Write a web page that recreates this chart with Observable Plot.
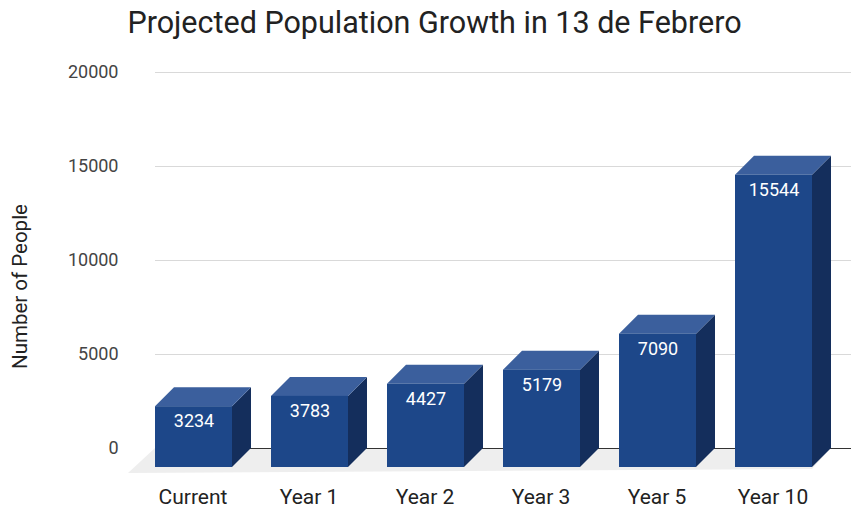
<!DOCTYPE html>
<html>
<head>
<meta charset="utf-8">
<script src="https://cdn.jsdelivr.net/npm/d3@7"></script>
<script src="https://cdn.jsdelivr.net/npm/@observablehq/plot@0.6"></script>
<style>
  html, body { margin: 0; padding: 0; background: #fff; }
  #wrap { position: relative; width: 851px; height: 513px; overflow: hidden; font-family: Roboto, sans-serif; }
  #title { position: absolute; left: 9px; top: 3px; width: 851px; text-align: center; font-size: 30.5px; line-height: 40px; color: #222; white-space: nowrap; }
  #chart { position: absolute; left: 0; top: 60px; }
</style>
</head>
<body>
<div id="wrap">
  <div id="title">Projected Population Growth in 13 de Febrero</div>
  <div id="chart"></div>
</div>
<script>
const categories = ["Current", "Year 1", "Year 2", "Year 3", "Year 5", "Year 10"];
const population = [3234, 3783, 4427, 5179, 7090, 15544];
const yTicks = [0, 5000, 10000, 15000, 20000];
const yLabel = "Number of People";

const data = categories.map((c, i) => ({cat: c, value: population[i]}));

const DX = 19, DY = 19;
const frontColor = "#1d4789";
const topColor = "#3b5f9d";
const sideColor = "#142e5c";

function depthFaces(index, scales, values, dimensions) {
  const {x, y} = scales;
  const bw = x.bandwidth();
  const g = d3.create("svg:g");
  const y0 = y(0);
  const xl = dimensions.marginLeft;
  const last = x(categories[categories.length - 1]) + bw;
  g.append("path")
    .attr("d", `M${xl},${y0}L${last},${y0}L${last - DX},${y0 + 21}L${xl - 27},${y0 + 25}Z`)
    .attr("fill", "#eeeeee");
  return g.node();
}

function barFaces(index, scales) {
  const {x, y} = scales;
  const bw = x.bandwidth();
  const g = d3.create("svg:g");
  const y0 = y(0);
  for (const d of data) {
    const x0 = x(d.cat), x1 = x0 + bw, yt = y(d.value);
    g.append("path")
      .attr("d", `M${x1 - DX},${yt + DY}L${x1},${yt}L${x1},${y0}L${x1 - DX},${y0 + DY}Z`)
      .attr("fill", sideColor);
    g.append("path")
      .attr("d", `M${x0},${yt}L${x1},${yt}L${x1 - DX},${yt + DY}L${x0 - DX},${yt + DY}Z`)
      .attr("fill", topColor);
  }
  return g.node();
}

const chart = Plot.plot({
  width: 851,
  height: 453,
  marginTop: 12,
  marginBottom: 65,
  marginLeft: 155,
  marginRight: 0,
  style: {fontFamily: "Roboto, sans-serif", background: "white"},
  x: {domain: categories, paddingInner: 0.336, paddingOuter: 0.168},
  y: {domain: [0, 20000]},
  marks: [
    Plot.gridY(yTicks.filter(t => t > 0), {stroke: "#d9d9d9", strokeOpacity: 1}),
    depthFaces,
    Plot.ruleY([0], {stroke: "#333", strokeWidth: 1}),
    Plot.axisY(yTicks, {tickSize: 0, tickPadding: 37, tickFormat: d => String(d), fontSize: 18, color: "#444", label: null}),
    Plot.axisX({tickSize: 0, tickPadding: 41, dx: -20, fontSize: 21, color: "#222", label: null}),
    barFaces,
    Plot.barY(data, {x: "cat", y: "value", fill: frontColor, dx: -DX, dy: DY}),
    Plot.text(data, {x: "cat", y: "value", text: d => String(d.value), dx: -DX, dy: DY + 15, fill: "white", fontSize: 18, lineAnchor: "middle"}),
    Plot.text([yLabel], {frameAnchor: "left", dx: -135, dy: 26, rotate: -90, fontSize: 20.5, fill: "#222", textAnchor: "middle", lineAnchor: "middle"})
  ]
});
document.getElementById("chart").appendChild(chart);
</script>
</body>
</html>
